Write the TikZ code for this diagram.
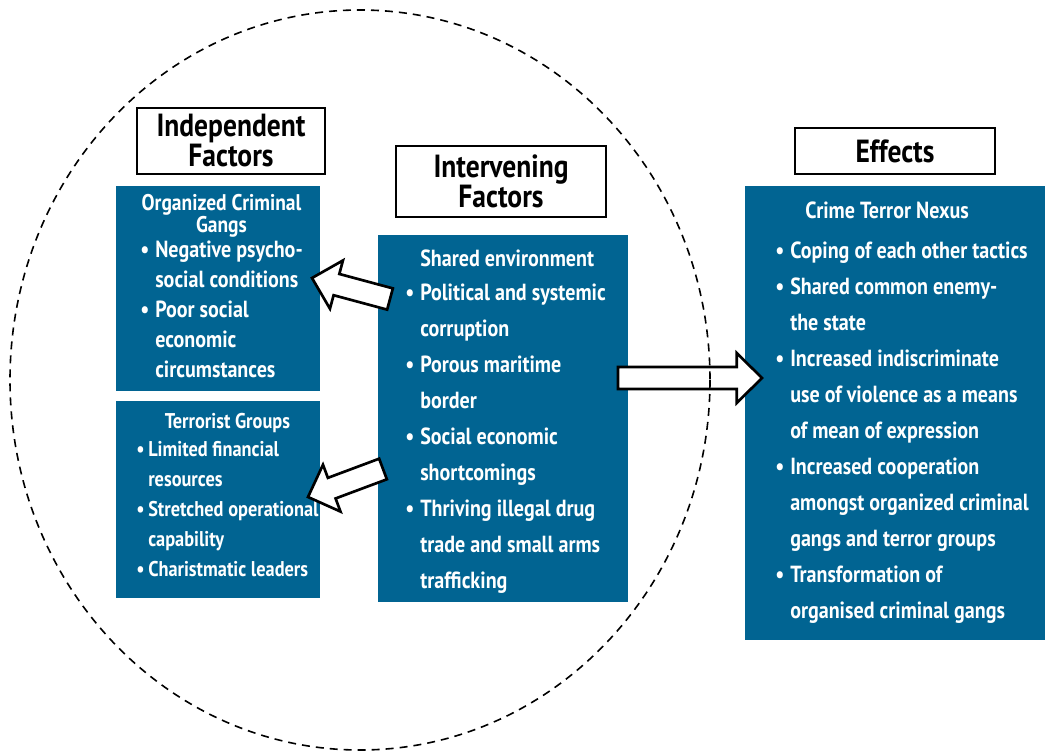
\documentclass[tikz,border=0pt]{standalone}
\usepackage{fontspec}
\setmainfont{PT Sans}[FakeStretch=0.86]
\usepackage{tikz}
\usetikzlibrary{calc, positioning}
\definecolor{boxblue}{RGB}{1, 100, 146}

\newcommand{\bul}{\makebox[11.25pt][l]{\textbullet}}
\newcommand{\sbul}{\makebox[9pt][l]{\textbullet}}
% white block arrow, tail (#1) to tip (#2)
\newcommand{\blockarrow}[2]{%
  \coordinate (#1-head) at ($(#2)!19pt!(#1)$);
  \draw[blockarrow] ($(#1)!8.25pt!90:(#2)$) -- ($(#1-head)!8.25pt!90:(#2)$)
    -- ($(#1-head)!18.75pt!90:(#2)$) -- (#2) -- ($(#1-head)!18.75pt!-90:(#2)$)
    -- ($(#1-head)!8.25pt!-90:(#2)$) -- ($(#1)!8.25pt!-90:(#2)$) -- cycle;
}

\begin{document}
\begin{tikzpicture}[x=0.75pt, y=-0.75pt,
    titlebox/.style={draw, line width=2pt, align=center, inner sep=0pt, font=\fontsize{24}{22.5}\selectfont\bfseries},
    bluebox/.style={fill=boxblue, inner sep=0pt},
    listtext/.style={text=white, inner sep=0pt, anchor=base west, font=\fontsize{17.5}{27}\selectfont\bfseries},
    smalllist/.style={listtext, font=\fontsize{17.5}{22.5}\selectfont\bfseries},
    blockarrow/.style={draw, line width=2pt, fill=white},
    ring/.style={line width=1.2pt, dash pattern=on 6pt off 4.5pt}
]
    \useasboundingbox (0,0) rectangle (1045,753);

    % headings
    \node[titlebox, minimum width=141pt, minimum height=49.5pt] (indep) at (231,141) {Independent\\Factors};
    \node[titlebox, minimum width=157.5pt, minimum height=53.25pt] (interv) at (501,181.5) {Intervening\\Factors};
    \node[titlebox, minimum width=150pt, minimum height=34.5pt] (effects) at (895,151) {Effects};

    % blue panels
    \node[bluebox, minimum width=153pt, minimum height=153.75pt] (gangs) at (218,288.5) {};
    \node[bluebox, minimum width=153pt, minimum height=147.75pt] (terror) at (218,499.5) {};
    \node[bluebox, minimum width=187.5pt, minimum height=275.25pt] (shared) at (503,418.5) {};
    \node[bluebox, minimum width=225pt, minimum height=340.5pt] (nexus) at (895,413) {};

    \node[smalllist] (gangs-list) at (140,210) {\begin{tabular}[t]{@{}l@{}l@{}}
        \multicolumn{2}{@{}c@{}}{\fontsize{17}{22.5}\selectfont Organized Criminal}\\[-6pt]
        \multicolumn{2}{@{}c@{}}{\fontsize{17}{22.5}\selectfont Gangs}\\[-3.75pt]
        \bul & Negative psycho-\\
             & social conditions\\
        \bul & Poor social\\
             & economic\\
             & circumstances
    \end{tabular}};

    \node[smalllist, font=\fontsize{16}{22.5}\selectfont\bfseries] (terror-list) at (136,428) {\begin{tabular}[t]{@{}l@{}l@{}}
        \multicolumn{2}{@{}c@{}}{Terrorist Groups}\\[-1.5pt]
        \sbul & Limited financial\\
              & resources\\
        \sbul & Stretched operational\\
              & capability\\
        \sbul & Charistmatic leaders
    \end{tabular}};

    \node[listtext] (shared-list) at (405,266) {\begin{tabular}[t]{@{}l@{}l@{}}
             & Shared environment\\[-1.5pt]
        \bul & Political and systemic\\
             & corruption\\
        \bul & Porous maritime\\
             & border\\
        \bul & Social economic\\
             & shortcomings\\
        \bul & Thriving illegal drug\\
             & trade and small arms\\
             & trafficking
    \end{tabular}};

    \node[listtext] (nexus-list) at (775,218) {\begin{tabular}[t]{@{}l@{}l@{}}
        \multicolumn{2}{@{}l@{}}{\hspace{22.5pt}Crime Terror Nexus}\\[3pt]
        \bul & Coping of each other tactics\\
        \bul & Shared common enemy-\\
             & the state\\
        \bul & Increased indiscriminate\\
             & use of violence as a means\\
             & of mean of expression\\
        \bul & Increased cooperation\\
             & amongst organized criminal\\
             & gangs and terror groups\\
        \bul & Transformation of\\
             & organised criminal gangs
    \end{tabular}};

    % arrows
    \coordinate (toGangs) at (390,299);
    \coordinate (gangsTip) at (312,278);
    \coordinate (toTerror) at (383,469);
    \coordinate (terrorTip) at (308,497);
    \coordinate (toNexus) at (618,378);
    \coordinate (nexusTip) at (762,378);
    \blockarrow{toGangs}{gangsTip}
    \blockarrow{toTerror}{terrorTip}
    \blockarrow{toNexus}{nexusTip}

    \draw[ring] (360,380) ellipse [x radius=350, y radius=370];
\end{tikzpicture}
\end{document}
